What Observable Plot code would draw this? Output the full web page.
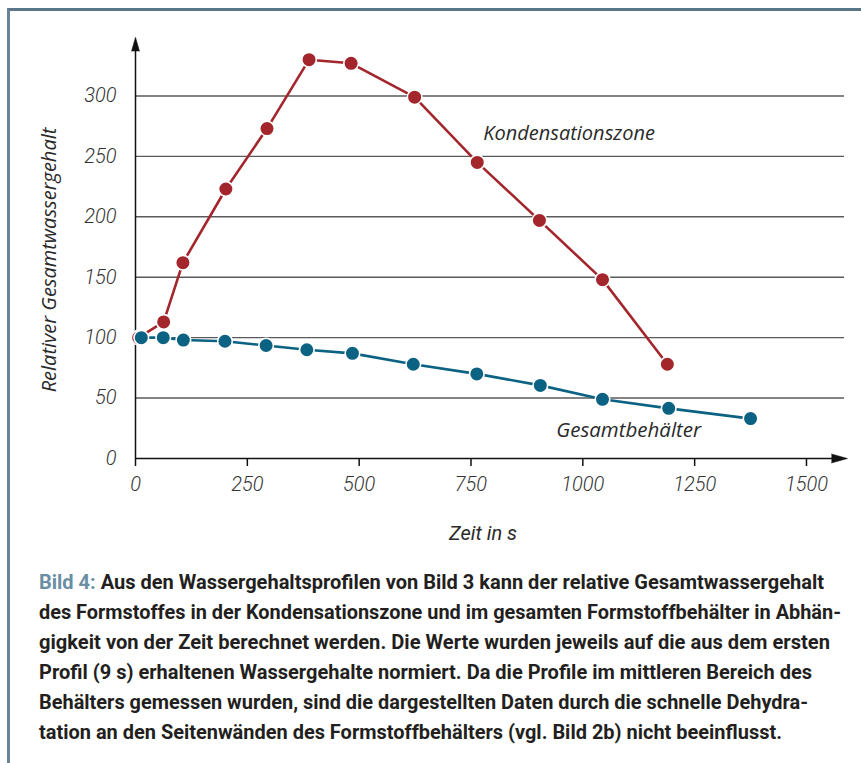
<!DOCTYPE html>
<html>
<head>
<meta charset="utf-8">
<script src="https://cdn.jsdelivr.net/npm/d3@7"></script>
<script src="https://cdn.jsdelivr.net/npm/@observablehq/plot@0.6"></script>
<style>
  html, body { margin: 0; padding: 0; background: #fff; }
  #wrap { position: relative; width: 861px; height: 763px; overflow: hidden; background: #fff; }
  #chart { position: absolute; left: 0; top: 0; }
  #caption { position: absolute; left: 0; top: 555px; }
  #frame { position: absolute; left: 7px; top: 8px; width: 900px; height: 800px;
           border-top: 3px solid #5b7688; border-left: 3px solid #67849a; pointer-events: none; }
</style>
</head>
<body>
<div id="wrap">
  <div id="chart"></div>
  <svg id="caption" width="861" height="208"></svg>
  <div id="frame"></div>
</div>
<script>
// ---- data ----
const kondTime  = [7, 63, 106, 202, 294, 388, 482, 624, 764, 903, 1044, 1189];
const kondValue = [100, 113, 162, 223, 273, 330, 327, 299, 245, 197, 148, 78];
const gesTime   = [13, 62, 107, 200, 292, 383, 485, 621, 763, 905, 1044, 1192, 1375];
const gesValue  = [100, 100, 98, 97, 93.5, 90, 87, 78, 70, 60.5, 49, 41.5, 33];
const xTicks = [0, 250, 500, 750, 1000, 1250, 1500];
const yTicks = [0, 50, 100, 150, 200, 250, 300];
const seriesNames = ["Kondensationszone", "Gesamtbehälter"];
const xTitle = "Zeit in s";
const yTitle = "Relativer Gesamtwassergehalt";
const captionLead = "Bild 4:";
const captionLines = [
  " Aus den Wassergehaltsprofilen von Bild 3 kann der relative Gesamtwassergehalt",
  "des Formstoffes in der Kondensationszone und im gesamten Formstoffbehälter in Abhän-",
  "gigkeit von der Zeit berechnet werden. Die Werte wurden jeweils auf die aus dem ersten",
  "Profil (9 s) erhaltenen Wassergehalte normiert. Da die Profile im mittleren Bereich des",
  "Behälters gemessen wurden, sind die dargestellten Daten durch die schnelle Dehydra-",
  "tation an den Seitenwänden des Formstoffbehälters (vgl. Bild 2b) nicht beeinflusst."
];

const kond = kondTime.map((t, i) => ({t, v: kondValue[i]}));
const ges = gesTime.map((t, i) => ({t, v: gesValue[i]}));

const red = "#a3262d";
const blue = "#0b6282";
const tickFont = "Roboto, 'Liberation Sans', sans-serif";
const labelFont = "'Open Sans', 'Noto Sans', sans-serif";

const chart = Plot.plot({
  width: 861,
  height: 555,
  marginLeft: 135,
  marginRight: 17,
  marginTop: 35,
  marginBottom: 97,
  style: {background: "transparent", overflow: "visible"},
  x: {domain: [0, 1585]},
  y: {domain: [0, 350]},
  marks: [
    Plot.gridY(yTicks.filter(d => d > 0), {stroke: "#5a5a5a", strokeOpacity: 1, strokeWidth: 1.4}),
    // axes lines with arrowheads
    Plot.ruleY([0], {x1: 0, x2: 1560, stroke: "#111", strokeWidth: 1.5}),
    Plot.vector([0], {x: 1556, y: 0, length: 16, r: 4.5, rotate: 90, shape: "spike", anchor: "start", fill: "#111", stroke: "#111", strokeWidth: 0.5}),
    Plot.ruleX([0], {y1: 0, y2: 338, stroke: "#111", strokeWidth: 1.5}),
    Plot.vector([0], {x: 0, y: 337, length: 14, r: 4, rotate: 0, shape: "spike", anchor: "start", fill: "#111", stroke: "#111", strokeWidth: 0.5}),
    Plot.axisX({ticks: xTicks, tickSize: 8, tickPadding: 10, tickFormat: d => String(d), label: null,
      stroke: "#111", strokeWidth: 1.5, fill: "#333", fontSize: 20, fontStyle: "italic", fontFamily: tickFont, fontWeight: 300}),
    Plot.axisY({ticks: yTicks, tickSize: 0, tickPadding: 19, tickFormat: d => String(d), label: null,
      fill: "#333", fontSize: 20, fontStyle: "italic", fontFamily: tickFont, fontWeight: 300}),
    // Kondensationszone
    Plot.line(kond, {x: "t", y: "v", stroke: red, strokeWidth: 2.6}),
    Plot.dot(kond, {x: "t", y: "v", r: 7.3, fill: red, stroke: "white", strokeWidth: 1.6}),
    // Gesamtbehälter
    Plot.line(ges, {x: "t", y: "v", stroke: blue, strokeWidth: 2.6}),
    Plot.dot(ges, {x: "t", y: "v", r: 7.3, fill: blue, stroke: "white", strokeWidth: 1.6}),
    // series labels
    Plot.text([seriesNames[0]], {x: kondTime[8], y: kondValue[8], dx: 6, dy: -29, textAnchor: "start",
      fontSize: 20, fontStyle: "italic", fontFamily: labelFont, fill: "#2a2a2a"}),
    Plot.text([seriesNames[1]], {x: gesTime[11], y: gesValue[11], dx: -40, dy: 22, textAnchor: "middle",
      fontSize: 20.5, fontStyle: "italic", fontFamily: labelFont, fill: "#2a2a2a"}),
    // axis titles
    Plot.text([xTitle], {frameAnchor: "bottom", dx: -7, dy: 81, fontSize: 20, fontStyle: "italic", fontFamily: tickFont, fill: "#2a2a2a"}),
    Plot.text([yTitle], {frameAnchor: "left", textAnchor: "middle", rotate: -90, dx: -86, dy: 13, fontSize: 20, fontStyle: "italic", fontFamily: labelFont, fill: "#2a2a2a"})
  ]
});
document.getElementById("chart").appendChild(chart);

// caption (each line fitted to the measured width of the reference)
const capEnds = [824, 841, 830, 812, 808, 782];
const capSvg = d3.select("#caption");
captionLines.forEach((line, i) => {
  const t = capSvg.append("text")
    .attr("x", 39)
    .attr("y", 34 + i * 30)
    .attr("textLength", capEnds[i] - 39)
    .attr("lengthAdjust", "spacingAndGlyphs")
    .attr("font-family", "Roboto, 'Liberation Sans', sans-serif")
    .attr("font-weight", 700)
    .attr("font-size", 20)
    .attr("fill", "#231f20");
  if (i === 0) {
    t.append("tspan").attr("fill", "#6a8ea3").text(captionLead);
    t.append("tspan").text(line);
  } else {
    t.text(line);
  }
});
</script>
</body>
</html>
